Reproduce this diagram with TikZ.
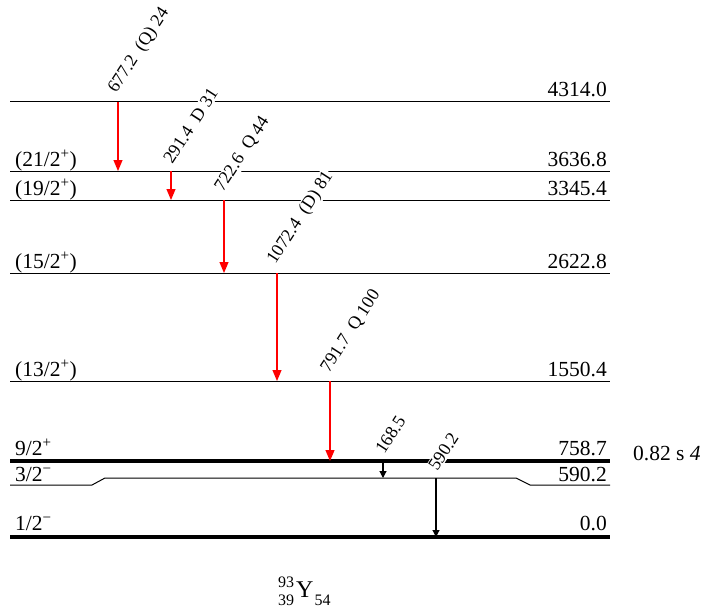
\documentclass[tikz,border=0pt]{standalone}
\usepackage{fontspec}
\setmainfont{Liberation Serif}
\usetikzlibrary{arrows.meta}

\tikzset{
  level/.style={line width=1pt},
  gslevel/.style={line width=4.5pt},
  gam/.style={red, line width=1.2pt, -{Triangle[length=11pt,width=9pt]}},
  gamblk/.style={black, line width=1.1pt, -{Triangle[length=7pt,width=7pt]}},
  glabel/.style={rotate=57, anchor=south west, fill=white, text=black, inner sep=1pt,
    font=\fontsize{18}{20}\selectfont},
  spin/.style={anchor=base west, inner sep=0pt},
  energy/.style={anchor=base east, inner sep=0pt},
}

\begin{document}
\begin{tikzpicture}[x=1pt, y=1pt, font=\fontsize{21.5}{24}\selectfont]
  \useasboundingbox (0,0) rectangle (701,-615);
  % Levels
  \draw[level] (10,-102) coordinate (l4314) -- (610,-102);
  \draw[level] (10,-171) coordinate (l3637) -- (610,-171);
  \draw[level] (10,-200) coordinate (l3345) -- (610,-200);
  \draw[level] (10,-273) coordinate (l2623) -- (610,-273);
  \draw[level] (10,-381) coordinate (l1550) -- (610,-381);
  \draw[gslevel] (10,-461) coordinate (l759) -- (610,-461);
  \draw[level] (10,-485) -- (92,-485) -- (105,-478) coordinate (l590)
    -- (516,-478) -- (530,-485) -- (610,-485);
  \draw[gslevel] (10,-537) coordinate (l0) -- (610,-537);
  % Spin and energy labels
  \foreach \y/\j/\e/\n in {97/{}/4314.0/a,
      166/{(21/2\textsuperscript{+})}/3636.8/b,
      195/{(19/2\textsuperscript{+})}/3345.4/c,
      268/{(15/2\textsuperscript{+})}/2622.8/d,
      376/{(13/2\textsuperscript{+})}/1550.4/e,
      455/{9/2\textsuperscript{+}}/758.7/f,
      481/{3/2\textsuperscript{−}}/590.2/g,
      530/{1/2\textsuperscript{−}}/0.0/h} {
    \node[spin] (j\n) at (15,-\y) {\j};
    \node[energy] (e\n) at (607,-\y) {\e};
  }
  % Half-life
  \node[anchor=base west, inner sep=0pt] (hl) at (633,-460) {0.82 s \textit{4}};
  % Gamma columns
  \foreach \i/\x in {1/118, 2/171, 3/224, 4/277, 5/330, 6/383, 7/436}
    \coordinate (c\i) at (\x,0);
  % Transitions
  \draw[gam] (c1 |- l4314) node[xshift=2pt, yshift=4pt, glabel] (g677) {677.2~ (Q) 24} -- (c1 |- l3637);
  \draw[gam] (c2 |- l3637) node[xshift=2pt, yshift=4pt, glabel] (g291) {291.4~ D 31} -- (c2 |- l3345);
  \draw[gam] (c3 |- l3345) node[xshift=2pt, yshift=4pt, glabel] (g723) {722.6~ Q 44} -- (c3 |- l2623);
  \draw[gam] (c4 |- l2623) node[xshift=2pt, yshift=4pt, glabel] (g1072) {1072.4~ (D) 81} -- (c4 |- l1550);
  \draw[gam] (c5 |- l1550) node[xshift=2pt, yshift=4pt, glabel] (g792) {791.7~ Q 100} -- (c5 |- l759);
  \draw[gamblk] (c6 |- l759) node[xshift=2pt, yshift=4pt, glabel] (g169) {168.5} -- (c6 |- l590);
  \draw[gamblk] (c7 |- l590) node[xshift=2pt, yshift=4pt, glabel] (g590) {590.2} -- (c7 |- l0);
  % Nuclide
  \node[anchor=base west, inner sep=0pt] (nuc) at (278,-597)
    {\fontsize{16}{18}\selectfont\raisebox{10pt}{93}\llap{\raisebox{-8pt}{39}}\kern2pt\fontsize{24}{27}\selectfont Y\kern1pt\fontsize{16}{18}\selectfont\raisebox{-8pt}{54}};
\end{tikzpicture}
\end{document}
